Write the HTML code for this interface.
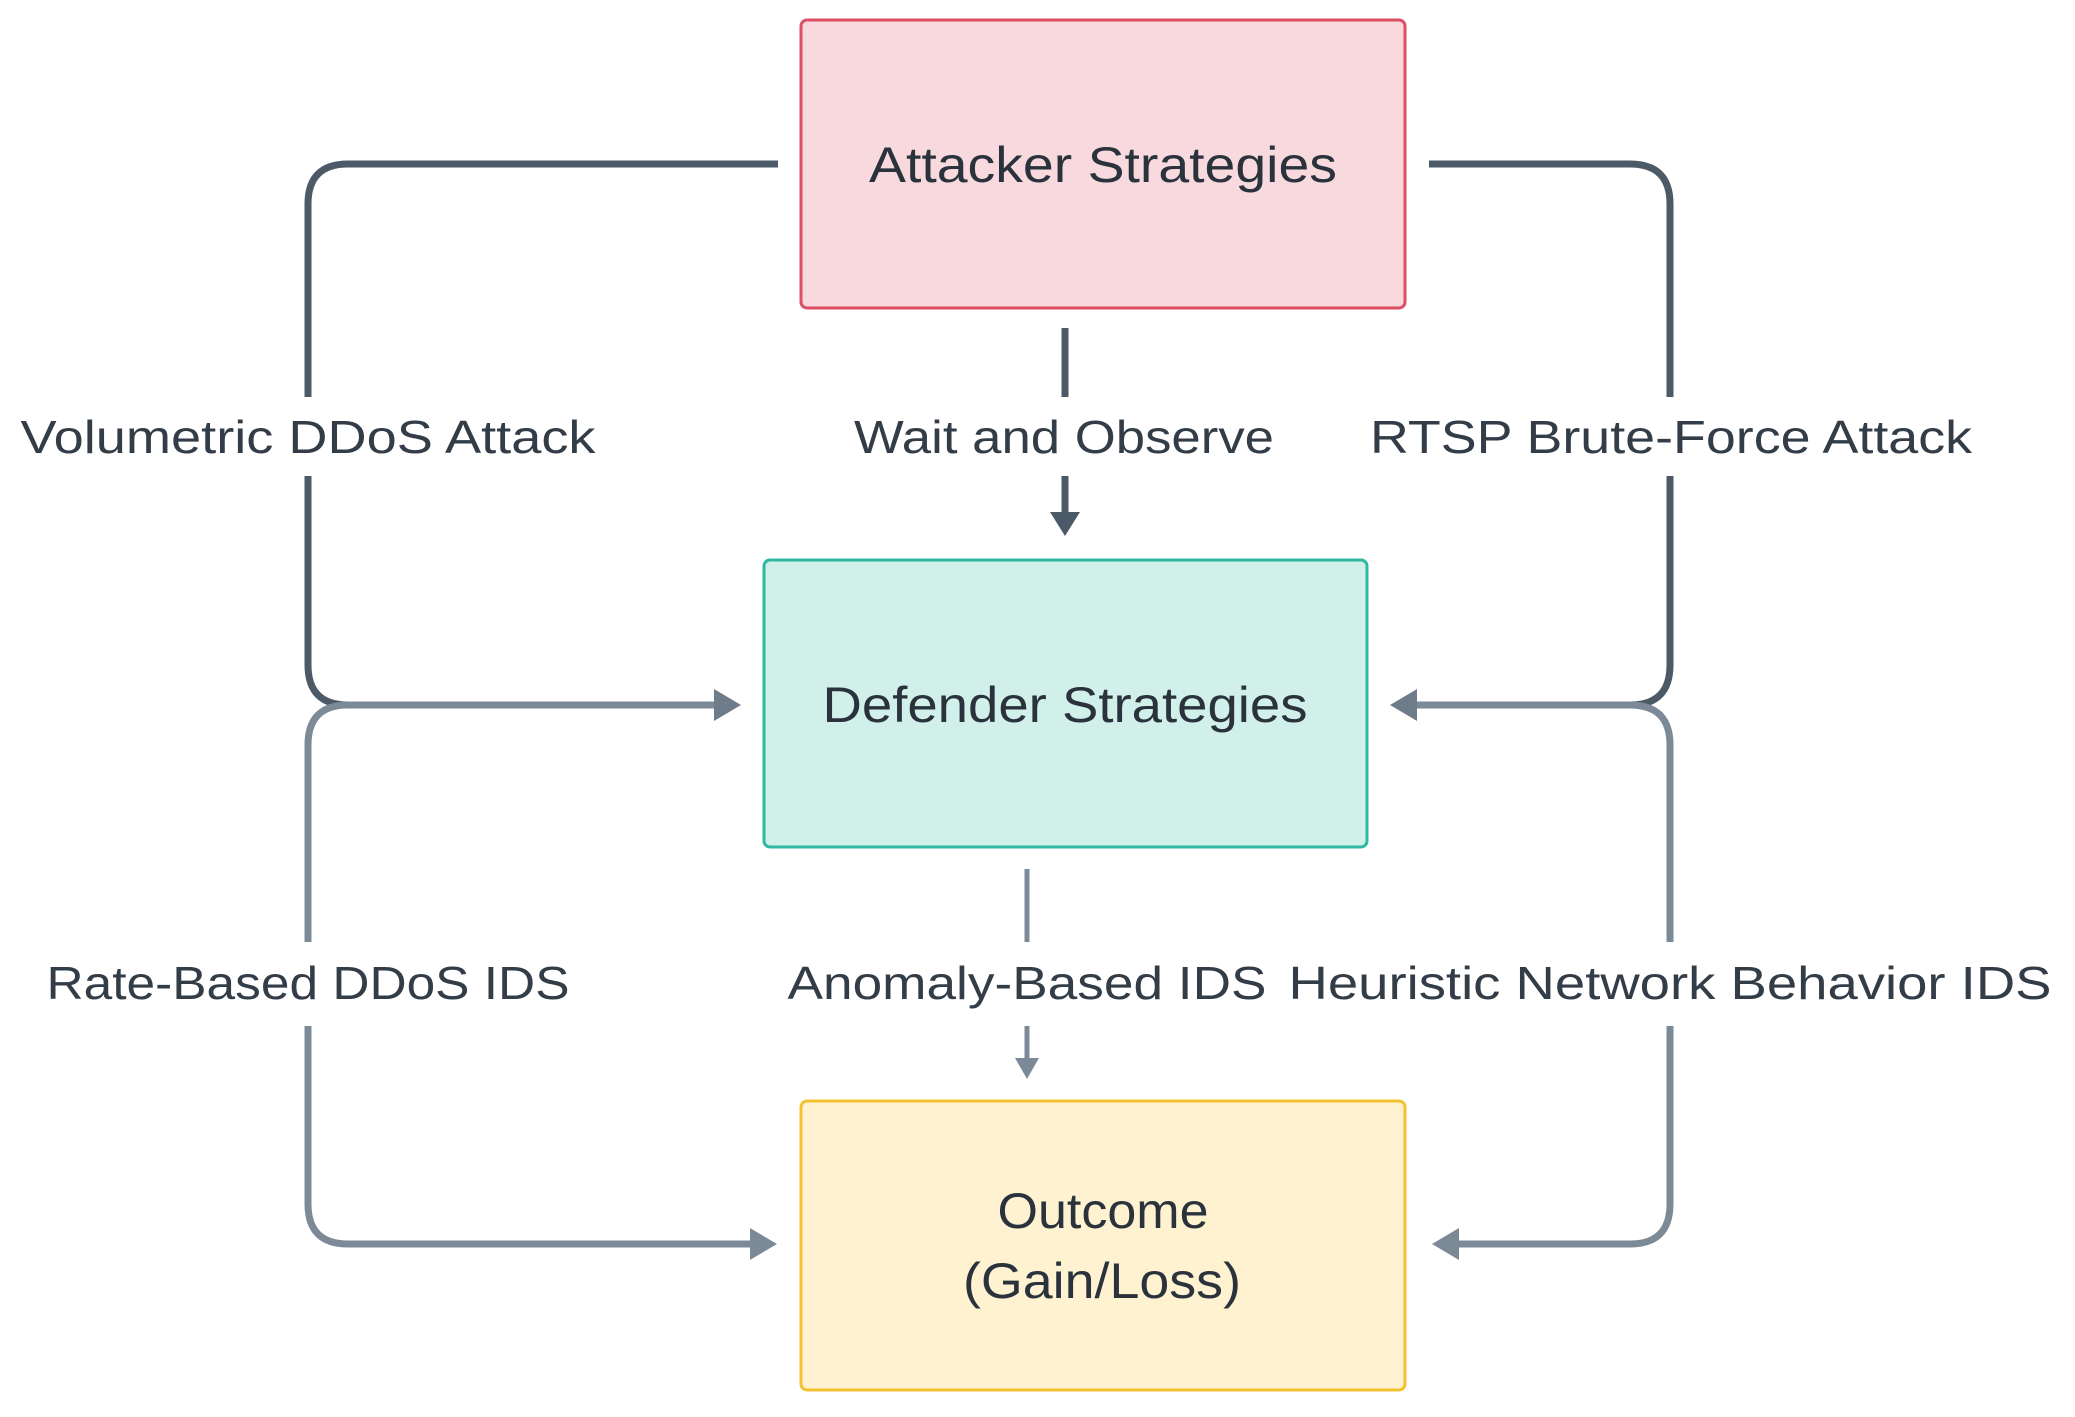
<!DOCTYPE html>
<html><head><style>html,body{margin:0;padding:0;background:#fff;}svg{display:block}</style></head>
<body>
<svg width="2075" height="1417" viewBox="0 0 2075 1417" xmlns="http://www.w3.org/2000/svg" font-family="Liberation Sans Narrow, Liberation Sans, sans-serif">
<rect x="0" y="0" width="2075" height="1417" fill="#fff"/>
<rect x="801" y="20" width="604" height="288" rx="6" fill="#f7d9de" stroke="#dd4f63" stroke-width="3"/>
<rect x="764" y="560" width="603" height="287" rx="6" fill="#d2f0ea" stroke="#2fb9a3" stroke-width="3"/>
<rect x="801" y="1101" width="604" height="289" rx="6" fill="#fff2d1" stroke="#f4c230" stroke-width="3"/>
<g fill="none" stroke-linecap="butt" stroke-width="7">
<g stroke="#4c5a68">
<path d="M778 164 H348 Q308 164 308 204 V397"/>
<path d="M308 476 V665 Q308 705 348 705"/>
<path d="M1429 164 H1630 Q1670 164 1670 204 V397"/>
<path d="M1670 476 V665 Q1670 705 1630 705"/>
<path d="M1065 328 V397"/>
<path d="M1065 476 V516"/>
</g>
<g stroke="#7c8a98">
<path d="M728 705 H348 Q308 705 308 745 V942"/>
<path d="M308 1026 V1204 Q308 1244 348 1244 H762"/>
<path d="M1405 705 H1630 Q1670 705 1670 745 V942"/>
<path d="M1670 1026 V1204 Q1670 1244 1630 1244 H1448"/>
</g>
<g stroke="#7c8a98" stroke-width="5">
<path d="M1027 869 V942"/>
<path d="M1027 1026 V1062"/>
</g>
</g>
<polygon points="1050,512 1080,512 1065,536" fill="#4c5a68"/>
<polygon points="1015,1058 1039,1058 1027,1079" fill="#7c8a98"/>
<polygon points="714,689 741,705 714,721" fill="#6e7c8a"/>
<polygon points="1417,689 1390,705 1417,721" fill="#6e7c8a"/>
<polygon points="750,1228 777,1244 750,1260" fill="#7c8a98"/>
<polygon points="1459,1228 1432,1244 1459,1260" fill="#7c8a98"/>
<g fill="#333d48" font-size="46" text-anchor="middle" dominant-baseline="central">
<text x="308" y="437" textLength="575" lengthAdjust="spacingAndGlyphs">Volumetric DDoS Attack</text>
<text x="1064" y="437" textLength="420" lengthAdjust="spacingAndGlyphs">Wait and Observe</text>
<text x="1671" y="437" textLength="602" lengthAdjust="spacingAndGlyphs">RTSP Brute-Force Attack</text>
<text x="308" y="983" textLength="523" lengthAdjust="spacingAndGlyphs">Rate-Based DDoS IDS</text>
<text x="1027" y="983" textLength="479" lengthAdjust="spacingAndGlyphs">Anomaly-Based IDS</text>
<text x="1670" y="983" textLength="763" lengthAdjust="spacingAndGlyphs">Heuristic Network Behavior IDS</text>
</g>
<g fill="#2a323c" font-size="50" text-anchor="middle" dominant-baseline="central">
<text x="1103" y="165" textLength="468" lengthAdjust="spacingAndGlyphs">Attacker Strategies</text>
<text x="1065" y="705" textLength="485" lengthAdjust="spacingAndGlyphs">Defender Strategies</text>
<text x="1103" y="1211" textLength="211" lengthAdjust="spacingAndGlyphs">Outcome</text>
<text x="1102" y="1281" textLength="278" lengthAdjust="spacingAndGlyphs">(Gain/Loss)</text>
</g>
</svg>
</body></html>
